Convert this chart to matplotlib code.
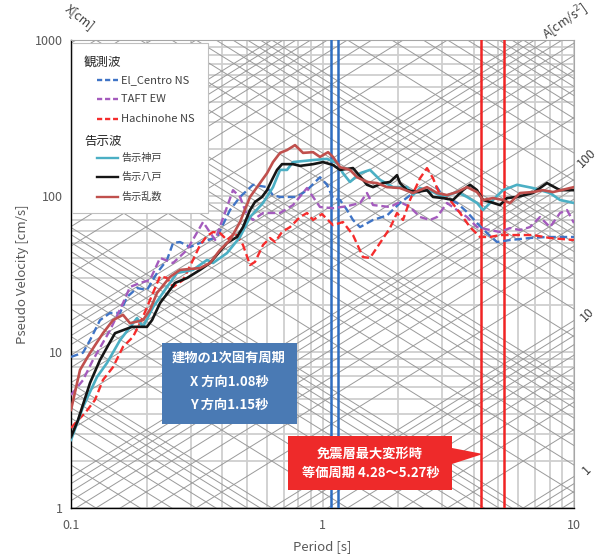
import numpy as np
import matplotlib
matplotlib.use('Agg')
import matplotlib.pyplot as plt
from matplotlib.patches import Rectangle, Polygon
from matplotlib.lines import Line2D

plt.rcParams['font.family'] = ['Noto Sans CJK JP', 'DejaVu Sans']

# ---------------- data ----------------
elc_T = [0.1, 0.1116, 0.119, 0.1304, 0.143, 0.1566, 0.167, 0.183, 0.2005, 0.2198, 0.2408, 0.2545,
         0.2713, 0.2973, 0.3259, 0.3806, 0.4288, 0.4699, 0.5294, 0.6017, 0.6357, 0.6778, 0.7919,
         0.8677, 0.9773, 1.042, 1.101, 1.174, 1.252, 1.322, 1.41, 1.588, 1.805, 2.033, 2.29, 2.603,
         2.853, 3.014, 3.426, 3.755, 4.115, 4.51, 4.94, 5.565, 6.683, 7.81, 10.0]
elc_S = [9.3, 9.9, 11.9, 16.0, 17.8, 17.8, 22.5, 25.7, 25.0, 32.1, 38.9, 50.0,
         50.7, 47.1, 50.0, 54.6, 81.3, 98.6, 118, 114, 101, 98.6, 98.6,
         109, 132, 118, 97, 94.3, 81.3, 70.2, 63.2, 70.2, 75.0, 90.2, 104.5, 109,
         114, 98.6, 90.2, 78.9, 67.1, 57.9, 50.7, 52.2, 53.8, 54.6, 54.6]

taft_T = [0.1, 0.1116, 0.1223, 0.143, 0.161, 0.1716, 0.188, 0.206, 0.226, 0.2545, 0.2893, 0.335,
          0.3742, 0.4407, 0.4699, 0.501, 0.5294, 0.58, 0.6778, 0.7634, 0.8677, 0.917, 0.9773,
          1.101, 1.252, 1.41, 1.503, 1.588, 1.855, 2.033, 2.228, 2.442, 2.676, 2.853, 3.126,
          3.426, 3.755, 4.115, 4.634, 5.078, 5.565, 6.1, 6.683, 7.324, 8.028, 8.799, 9.38, 10.0]
taft_S = [5.3, 6.6, 8.9, 13.8, 20.6, 26.1, 27.7, 28.9, 40.1, 37.2, 45.1, 68.1,
          52.2, 109, 98.6, 75.5, 70.2, 77.8, 77.8, 87.5, 112.5, 98.6, 85,
          83.5, 86, 90.2, 104.5, 87.5, 85, 91.6, 85, 73.3, 70.2, 73.3, 90.2,
          81.3, 73.3, 63.2, 60.5, 58.8, 62.3, 60.5, 63.2, 73.3, 63.2, 77.8, 81.3, 67.1]

hachi_T = [0.1, 0.1066, 0.1137, 0.1245, 0.134, 0.1469, 0.161, 0.1764, 0.1933, 0.206, 0.226, 0.2408,
           0.2545, 0.2788, 0.3056, 0.3259, 0.3474, 0.367, 0.3912, 0.4172, 0.449, 0.483, 0.515,
           0.539, 0.58, 0.6185, 0.648, 0.6902, 0.7428, 0.814, 0.8677, 0.917, 0.9954, 1.101, 1.206,
           1.322, 1.449, 1.545, 1.693, 1.855, 1.978, 2.09, 2.228, 2.442, 2.603, 2.75, 2.932,
           3.214, 3.522, 3.859, 4.23, 4.634, 5.078, 5.935, 6.87, 8.028, 10.0]
hachi_S = [3.26, 3.66, 4.06, 4.92, 6.62, 8.0, 10.8, 12.5, 16.8, 21.5, 30.6, 29.8,
           26.1, 28.9, 38.9, 48.5, 55.4, 58.8, 57.9, 52.2, 57.9, 48.5, 36.1,
           37.8, 48.5, 53.8, 50.7, 58.8, 63.2, 73.3, 77.8, 70.2, 76.6, 65.1, 68.1,
           56.2, 40.6, 40.1, 50.0, 62.3, 77.8, 70.2, 94.3, 130, 151, 130, 101.4,
           94.3, 77.8, 63.2, 54.6, 54.6, 56.2, 56.2, 56.2, 53.8, 52.2]

kobe_T = [0.1, 0.1116, 0.1269, 0.139, 0.1566, 0.183, 0.1933, 0.212, 0.2408, 0.264, 0.3056, 0.3474,
          0.367, 0.4172, 0.4699, 0.515, 0.58, 0.6357, 0.6778, 0.7227, 0.7634, 0.917, 1.042, 1.142,
          1.206, 1.286, 1.41, 1.545, 1.693, 1.907, 2.168, 2.29, 2.442, 2.75, 3.014, 3.426, 3.755,
          4.115, 4.348, 4.763, 5.22, 5.935, 6.87, 8.028, 8.799, 10.0]
kobe_S = [2.73, 4.44, 6.92, 8.5, 11.9, 16.5, 14.5, 19.4, 26.1, 32.1, 33.6, 38.9,
          37.2, 43.1, 54.6, 73.3, 90.2, 114, 147, 147, 165, 170, 173, 163,
          140, 123, 140, 147, 127, 114, 114, 101.4, 112.5, 106, 98.6, 106, 98.6,
          90.2, 81.3, 94.3, 109, 118, 112.5, 104.5, 94.3, 90.2]

kokuji_hachi_T = [0.1, 0.1066, 0.119, 0.1304, 0.1496, 0.1748, 0.2005, 0.21, 0.226, 0.2475, 0.259,
                  0.2893, 0.3259, 0.357, 0.3806, 0.4172, 0.457, 0.483, 0.515, 0.539, 0.5746, 0.6017,
                  0.6299, 0.6594, 0.6902, 0.7634, 0.814, 0.917, 1.005, 1.101, 1.174, 1.322, 1.449,
                  1.503, 1.588, 1.74, 1.855, 1.978, 2.033, 2.168, 2.375, 2.603, 2.75, 3.014, 3.303,
                  3.62, 3.859, 4.115, 4.348, 4.634, 5.078, 5.415, 5.935, 6.87, 7.81, 8.799, 10.0]
kokuji_hachi_S = [2.85, 3.66, 6.33, 8.89, 13.2, 14.5, 14.5, 16.0, 20.6, 25.0, 27.7,
                  29.8, 33.6, 37.2, 42.0, 50.0, 54.6, 63.2, 81.3, 91.6, 98.6, 109,
                  127, 147, 160, 160, 156, 160, 165, 158, 147, 151, 127,
                  118, 114, 121, 123, 136, 121, 109, 106, 109, 98.6, 97, 94.3,
                  109, 118, 109, 94.3, 91.6, 87.5, 97, 98.6, 104.5, 121, 109, 109]

random_T = [0.1, 0.1086, 0.119, 0.134, 0.1469, 0.161, 0.1716, 0.1933, 0.206, 0.2198, 0.2475, 0.2713,
            0.3259, 0.357, 0.3912, 0.4288, 0.4699, 0.515, 0.5642, 0.6017, 0.6357, 0.6778, 0.7227,
            0.7776, 0.8366, 0.917, 0.9773, 1.052, 1.101, 1.174, 1.286, 1.372, 1.503, 1.647, 1.805,
            2.033, 2.29, 2.603, 2.853, 3.126, 3.426, 3.755, 4.115, 4.348, 4.763, 5.22, 5.565, 6.1,
            6.87, 7.528, 8.251, 10.0]
random_S = [4.25, 7.67, 9.86, 13.2, 16.0, 17.3, 15.3, 16.0, 18.6, 23.9, 30.3, 33.6,
            34.5, 37.2, 45.1, 52.2, 68.1, 98.6, 121, 140, 165, 189, 197,
            212, 189, 191, 178, 191, 178, 153, 147, 132, 123, 121, 114,
            112.5, 104.5, 114, 104.5, 101.4, 106, 114, 106, 94.3, 97, 94.3, 90.2, 104.5,
            106, 109, 106, 114]

building_periods = [1.08, 1.15]
isolation_periods = [4.28, 5.27]

x_ticks = [0.1, 1, 10]
x_tick_labels = ['0.1', '1', '10']
y_ticks = [1, 10, 100, 1000]
y_tick_labels = ['1', '10', '100', '1000']
acc_labels = [1, 10, 100]

disp_grid = [m * 10.0 ** d for d in range(-2, 4) for m in range(1, 10)]
acc_grid = [m * 10.0 ** d for d in range(-1, 5) for m in range(1, 10)]
lin_grid_x = [m * 10.0 ** d for d in range(-1, 1) for m in range(1, 10)] + [10]
lin_grid_y = [m * 10.0 ** d for d in range(0, 3) for m in range(1, 10)] + [1000]

# ---------------- figure ----------------
W, H = 601, 556
fig = plt.figure(figsize=(W / 100, H / 100), dpi=100)
L, R, B, T = 71, 574, 508, 40
ax = fig.add_axes([L / W, 1 - B / H, (R - L) / W, (B - T) / H])
ax.set_xscale('log')
ax.set_yscale('log')
ax.set_xlim(0.1, 10)
ax.set_ylim(1, 1000)

def P(x, y):
    return (x / W, 1 - y / H)

grid_c = '#cfcfcf'
diag_c = '#9a9a9a'
for gx in lin_grid_x:
    ax.axvline(gx, color=grid_c, lw=1.3, zorder=1)
for gy in lin_grid_y:
    ax.axhline(gy, color=grid_c, lw=1.3, zorder=1)

Tl = np.array([0.1, 10.0])
for X in disp_grid:
    ax.plot(Tl, 2 * np.pi * X / Tl, color=diag_c, lw=0.7, zorder=1.5)
for A in acc_grid:
    ax.plot(Tl, A * Tl / (2 * np.pi), color=diag_c, lw=0.7, zorder=1.5)

for p in building_periods:
    ax.axvline(p, color='#2F6DC0', lw=1.8, zorder=3)
for p in isolation_periods:
    ax.axvline(p, color='#F02424', lw=1.8, zorder=3)

dash = (3.2, 1.6)
ax.plot(elc_T, elc_S, color='#3F74C6', lw=1.7, ls=(0, dash), zorder=4)
ax.plot(taft_T, taft_S, color='#A45BBD', lw=1.7, ls=(0, dash), zorder=4)
ax.plot(hachi_T, hachi_S, color='#F52C2C', lw=1.7, ls=(0, dash), zorder=4)
ax.plot(kobe_T, kobe_S, color='#4BAFC4', lw=1.9, zorder=5)
ax.plot(kokuji_hachi_T, kokuji_hachi_S, color='#151515', lw=1.9, zorder=5)
ax.plot(random_T, random_S, color='#C0504D', lw=1.9, zorder=5)

ax.set_xticks(x_ticks)
ax.set_xticklabels(x_tick_labels)
ax.set_yticks(y_ticks)
ax.set_yticklabels(y_tick_labels)
ax.minorticks_off()
ax.tick_params(length=0, labelsize=9, colors='#595959')
ax.tick_params(axis='x', pad=8)
ax.tick_params(axis='y', pad=6)
ax.set_xlabel('Period [s]', fontsize=9.5, color='#595959', labelpad=6)
ax.set_ylabel('Pseudo Velocity [cm/s]', fontsize=9.5, color='#595959', labelpad=4)
for s in ['top', 'right']:
    ax.spines[s].set_color('#a6a6a6')
for s in ['left', 'bottom']:
    ax.spines[s].set_color('#000000')
    ax.spines[s].set_linewidth(1.0)

# acceleration labels at right edge
for A in acc_labels:
    ax.annotate(str(A), xy=(10, A * 10 / (2 * np.pi)), xytext=(13, 6), textcoords='offset pixels',
                rotation=45, ha='center', va='center', fontsize=9, color='#404040',
                annotation_clip=False)

fig.text(*P(80, 17), 'X[cm]', rotation=-38, ha='center', va='center', fontsize=9, color='#404040')
fig.text(*P(565, 22), 'A[cm/s$^2$]', rotation=35, ha='center', va='center', fontsize=9, color='#404040')

# legend (manual)
fig.patches.append(Rectangle(P(72, 213), (208 - 72) / W, (213 - 43) / H, transform=fig.transFigure,
                             facecolor='white', edgecolor='#bfbfbf', lw=0.8, zorder=10))
def head(y, s):
    fig.text(*P(84, y), s, fontsize=9, va='center', ha='left', color='#262626', zorder=11)
def entry(y, s, c, ls, fs):
    fig.add_artist(Line2D([97 / W, 118 / W], [1 - y / H, 1 - y / H], color=c, lw=1.7, ls=ls,
                          transform=fig.transFigure, zorder=11))
    fig.text(*P(121, y), s, fontsize=fs, va='center', ha='left', color='#404040', zorder=11)
head(62, '観測波')
entry(80, 'El_Centro NS', '#3F74C6', (0, (2.2, 1.2)), 8)
entry(99, 'TAFT EW', '#A45BBD', (0, (2.2, 1.2)), 8)
entry(119, 'Hachinohe NS', '#F52C2C', (0, (2.2, 1.2)), 8)
head(141, '告示波')
entry(158, '告示神戸', '#4BAFC4', '-', 7.3)
entry(177, '告示八戸', '#151515', '-', 7.3)
entry(197, '告示乱数', '#C0504D', '-', 7.3)

# blue annotation box
fig.patches.append(Rectangle(P(162, 424), (297 - 162) / W, (424 - 343) / H, transform=fig.transFigure,
                             facecolor='#4A7AB4', edgecolor='none', zorder=10))
for y, s in [(358, '建物の1次固有周期'), (382, 'X 方向1.08秒'), (405, 'Y 方向1.15秒')]:
    fig.text(*P(229, y), s, fontsize=9.5, fontweight='bold', color='white', ha='center', va='center', zorder=11)

# red annotation callout
red_poly = [P(288, 436), P(452, 436), P(452, 448), P(483, 454), P(452, 464), P(452, 490), P(288, 490)]
fig.patches.append(Polygon(red_poly, closed=True, transform=fig.transFigure,
                           facecolor='#EE2A2A', edgecolor='none', zorder=10))
fig.text(*P(370, 454), '免震層最大変形時', fontsize=9.5, fontweight='bold', color='white', ha='center', va='center', zorder=11)
fig.text(*P(371, 473), '等価周期 4.28～5.27秒', fontsize=9.5, fontweight='bold', color='white', ha='center', va='center', zorder=11)

fig.savefig('out.png', dpi=100, facecolor='white')
